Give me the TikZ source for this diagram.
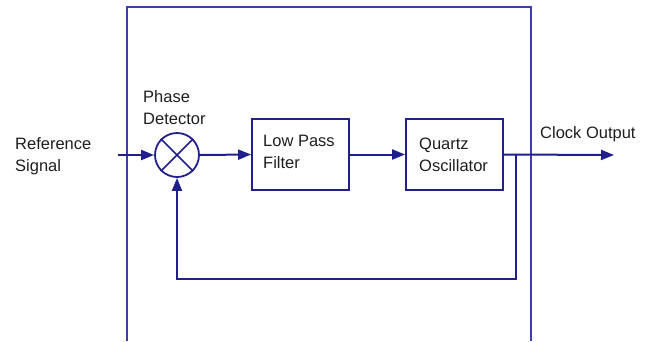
\documentclass[tikz,border=0pt]{standalone}
\usepackage{fontspec}
\setmainfont{Liberation Sans}
\usetikzlibrary{arrows.meta}
\definecolor{wire}{RGB}{32,32,140}
\definecolor{frame}{RGB}{62,62,170}
\definecolor{txt}{RGB}{30,30,30}
\begin{document}
\begin{tikzpicture}[x=1pt,y=-1pt,
  wireline/.style={draw=wire,line width=2pt},
  arr/.style={wireline,-{Triangle[length=13pt,width=10pt]}},
  blockbox/.style={draw=wire,line width=1.8pt,minimum width=97pt,minimum height=71pt,inner sep=0pt},
  lbl/.style={text=txt,font=\fontsize{16.5}{22}\selectfont,align=left,anchor=west,inner sep=0pt}]
\useasboundingbox (0,0) rectangle (652,341);
% outer frame (open at bottom)
\draw[draw=frame,line width=2pt] (127,341) -- (127,7) -- (531,7) -- (531,341);
% blocks
\node[draw=wire,line width=1.8pt,circle,minimum size=44pt,inner sep=0pt] (pd) at (177,155) {};
\draw[wireline,line width=1.6pt] (pd.north west) -- (pd.south east) (pd.north east) -- (pd.south west);
\node[blockbox] (lpf) at (300.5,154.5) {};
\node[blockbox] (qo) at (454.5,154.5) {};
% labels
\node[lbl] (reflbl) at (15,156) {Reference\\Signal};
\node[lbl] (pdlbl) at (143,108) {Phase\\Detector};
\node[lbl] (lpflbl) at (263,152) {Low Pass\\Filter};
\node[lbl] (qolbl) at (419,155) {Quartz\\Oscillator};
\node[lbl] (clklbl) at (540,134) {Clock Output};
% connectors
\coordinate (refin) at (118,155);
\coordinate (tap) at (516,155);
\coordinate (fbb) at (516,279);
\coordinate (clk) at (614,155);
\draw[arr] (refin) -- (pd.west);
\draw[arr] (pd.east) -- (lpf.west);
\draw[arr] (lpf.east) -- (qo.west);
\draw[arr] (qo.east) -- (clk);
\draw[arr] (tap) -- (fbb) -| (pd.south);
\end{tikzpicture}
\end{document}
